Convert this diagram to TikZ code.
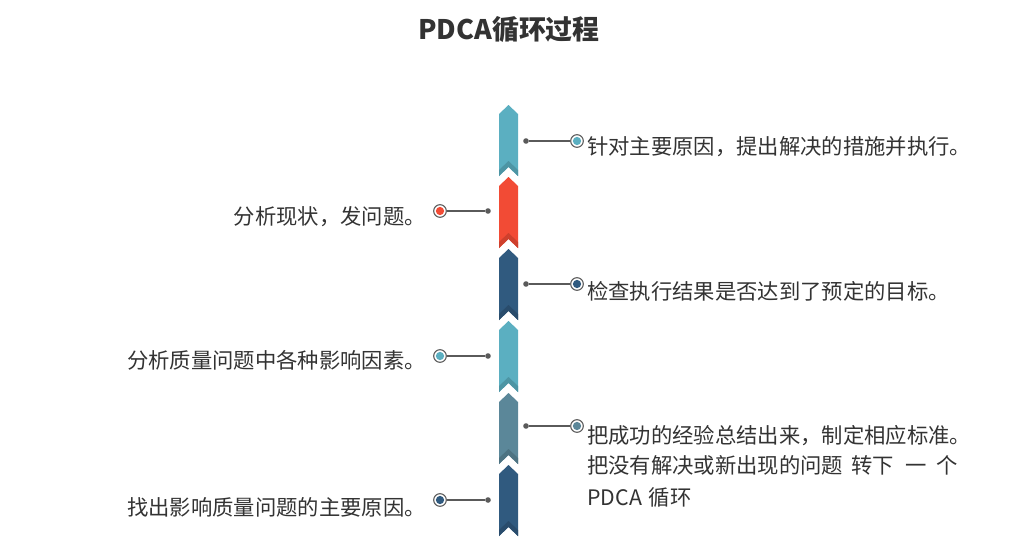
\documentclass[tikz,border=0pt]{standalone}
\usepackage{fontspec}
\newfontfamily\cjk{Noto Sans CJK SC}
\definecolor{pteal}{HTML}{5BAFC1}
\definecolor{pred}{HTML}{F24B35}
\definecolor{pdark}{HTML}{305A7F}
\definecolor{pgray}{HTML}{5B8799}
\definecolor{ptext}{HTML}{333333}
\definecolor{pring}{HTML}{5A5A5A}
\newcommand\pdcaseg[2]{%
  \fill[#2] (499,#1+9) -- (508.5,#1) -- (518,#1+9) -- (518,#1+71) -- (508.5,#1+62) -- (499,#1+71) -- cycle;
  \fill[#2!85!black] (499,#1+71) -- (508.5,#1+62) -- (518,#1+71) -- (518,#1+65) -- (508.5,#1+56) -- (499,#1+65) -- cycle;
}
\tikzset{
  dotnode/.style={circle, fill=pring, minimum size=4.2pt, inner sep=0pt},
  ringnode/.style={circle, draw=pring, fill=white, line width=0.8pt, minimum size=9.5pt, inner sep=0pt,
    path picture={\fill[#1] (path picture bounding box.center) circle (3.1pt);}},
  conn/.style={draw=pring, line width=0.9pt},
  lbl/.style={text=ptext, font=\cjk\fontsize{16}{20}\selectfont, inner sep=0pt},
}
\begin{document}
\begin{tikzpicture}[x=0.75pt,y=-0.75pt]
\useasboundingbox (0,0) rectangle (1020,553);
\fill[white] (0,0) rectangle (1020,553);
\node[text=ptext, font=\cjk\bfseries\fontsize{20.2}{24}\selectfont, inner sep=0pt, anchor=base] (title) at (509,39.5) {PDCA循环过程};
% segments
\pdcaseg{105}{pteal}
\pdcaseg{177}{pred}
\pdcaseg{249}{pdark}
\pdcaseg{321}{pteal}
\pdcaseg{393}{pgray}
\pdcaseg{465}{pdark}
% right connectors
\node[dotnode] (d1) at (526,141) {};
\node[ringnode=pteal] (c1) at (577,141) {};
\draw[conn] (d1) -- (c1);
\node[dotnode] (d3) at (526,284) {};
\node[ringnode=pdark] (c3) at (577,284) {};
\draw[conn] (d3) -- (c3);
\node[dotnode] (d5) at (526,426) {};
\node[ringnode=pgray] (c5) at (577,426) {};
\draw[conn] (d5) -- (c5);
% left connectors
\node[dotnode] (d2) at (488,211) {};
\node[ringnode=pred] (c2) at (440,211) {};
\draw[conn] (d2) -- (c2);
\node[dotnode] (d4) at (488,356) {};
\node[ringnode=pteal] (c4) at (440,356) {};
\draw[conn] (d4) -- (c4);
\node[dotnode] (d6) at (488,500) {};
\node[ringnode=pdark] (c6) at (440,500) {};
\draw[conn] (d6) -- (c6);
% texts
\node[lbl, anchor=base west] (t1) at (587,154) {针对主要原因，提出解决的措施并执行。};
\node[lbl, anchor=base west] (t3) at (587,299) {检查执行结果是否达到了预定的目标。};
\node[lbl, anchor=base west] (t5a) at (587,443) {把成功的经验总结出来，制定相应标准。};
\node[lbl, anchor=base west] (t5b) at (587,473.5) {把没有解决或新出现的问题\hspace{6pt}转下\hspace{9pt}一\hspace{7pt}个};
\node[lbl, anchor=base west] (t5c) at (587,505) {PDCA\hspace{5pt}循环};
\node[lbl, anchor=base east] (t2) at (426,224) {分析现状，发问题。};
\node[lbl, anchor=base east] (t4) at (426,368) {分析质量问题中各种影响因素。};
\node[lbl, anchor=base east] (t6) at (426,515) {找出影响质量问题的主要原因。};
\end{tikzpicture}
\end{document}
